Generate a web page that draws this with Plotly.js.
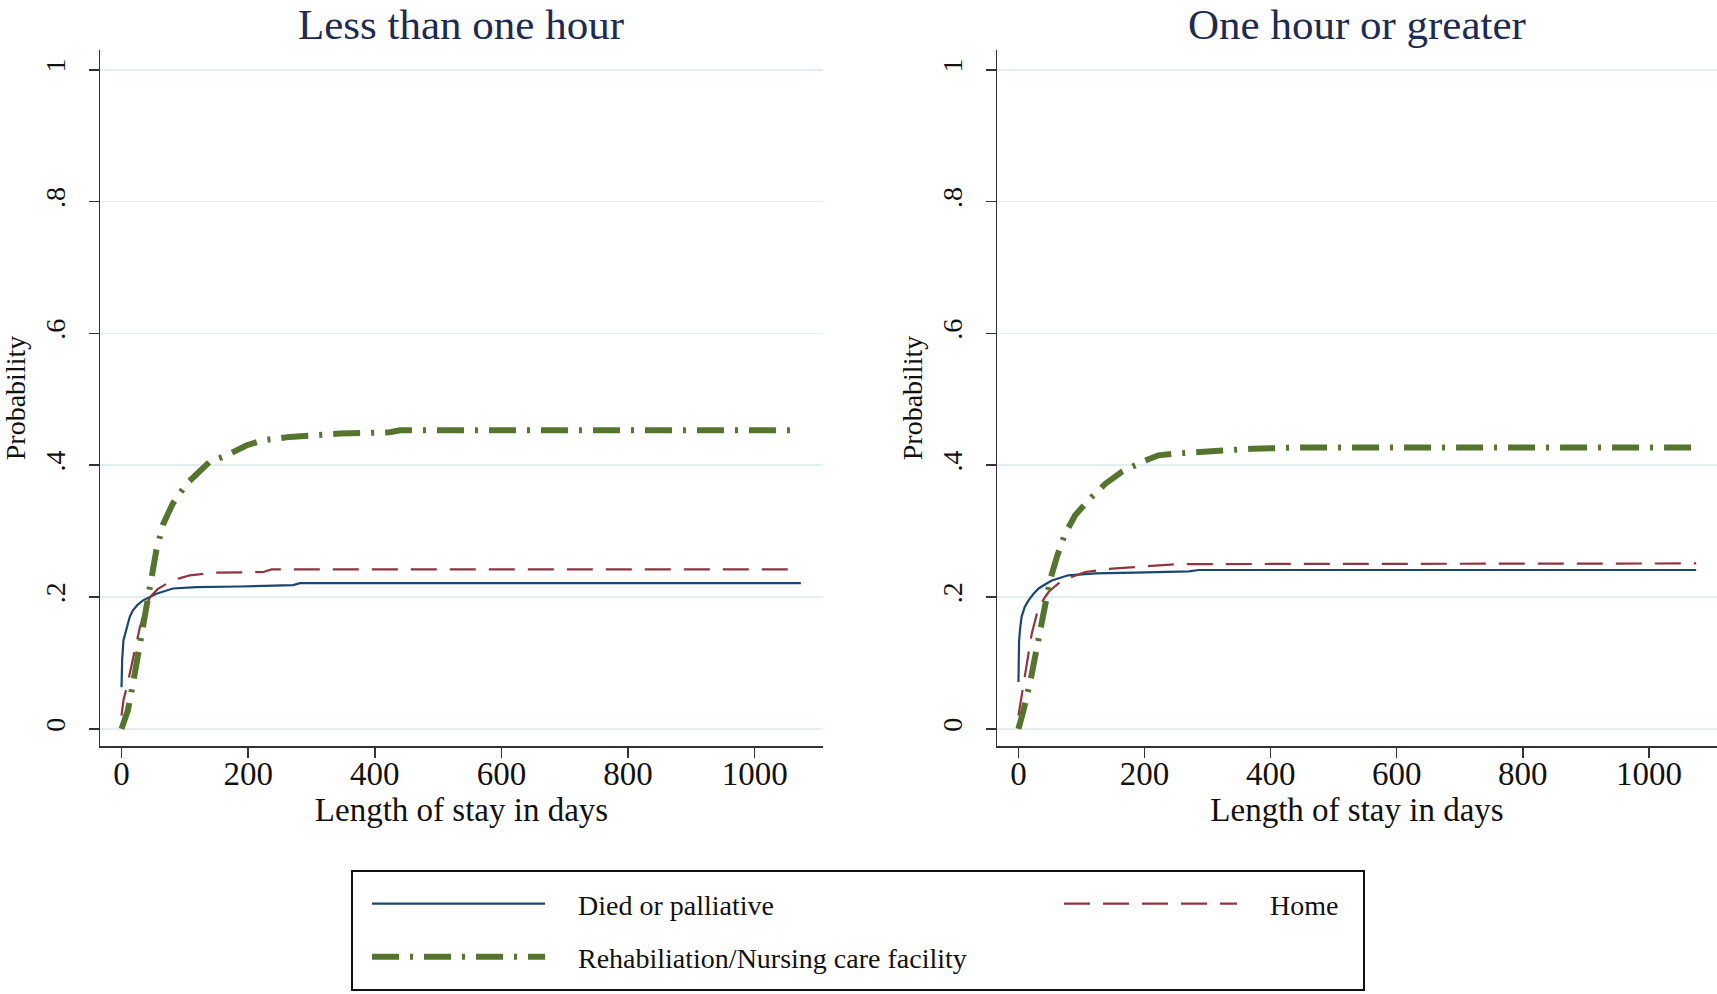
<!DOCTYPE html>
<html><head><meta charset="utf-8">
<script src="https://cdn.plot.ly/plotly-3.0.1.min.js"></script>
<style>html,body{margin:0;padding:0;background:#fff;} #chart{width:1717px;height:994px;}</style>
</head><body><div id="chart"></div><script>
const panelTitles = ["Less than one hour", "One hour or greater"];
const seriesNames = ["Died or palliative", "Home", "Rehabiliation/Nursing care facility"];
const xTickVals = [0, 200, 400, 600, 800, 1000];
const yTickVals = [0, 0.2, 0.4, 0.6, 0.8, 1];
const yTickText = ["0", ".2", ".4", ".6", ".8", "1"];

// Panel 1: Less than one hour
const lessDiedDays = [0, 1, 3, 8, 13, 18, 25, 34, 45, 55, 81, 118, 187, 271, 282, 1073];
const lessDiedProb = [0.063, 0.105, 0.134, 0.154, 0.170, 0.180, 0.188, 0.195, 0.200, 0.205, 0.213, 0.215, 0.216, 0.218, 0.221, 0.221];
const lessHomeDays = [0, 3, 8, 13, 21, 29, 37, 45, 57, 71, 90, 108, 145, 224, 237, 1073];
const lessHomeProb = [0.020, 0.043, 0.062, 0.084, 0.120, 0.154, 0.180, 0.200, 0.212, 0.220, 0.228, 0.233, 0.237, 0.238, 0.242, 0.242];
const lessRehabDays = [0, 5, 10, 18, 26, 37, 47, 55, 66, 81, 103, 124, 139, 166, 197, 224, 266, 345, 424, 440, 1073];
const lessRehabProb = [0.000, 0.012, 0.028, 0.068, 0.114, 0.170, 0.225, 0.271, 0.311, 0.342, 0.372, 0.390, 0.405, 0.415, 0.430, 0.438, 0.443, 0.448, 0.450, 0.453, 0.453];

// Panel 2: One hour or greater
const moreDiedDays = [0, 1, 3, 5, 10, 16, 24, 32, 42, 53, 79, 122, 185, 270, 286, 1075];
const moreDiedProb = [0.071, 0.134, 0.155, 0.170, 0.185, 0.195, 0.205, 0.213, 0.219, 0.225, 0.233, 0.236, 0.237, 0.239, 0.241, 0.241];
const moreHomeDays = [0, 5, 9, 13, 21, 32, 48, 69, 106, 148, 212, 254, 1075];
const moreHomeProb = [0.020, 0.048, 0.070, 0.094, 0.144, 0.185, 0.208, 0.225, 0.238, 0.243, 0.247, 0.250, 0.251];
const moreRehabDays = [0, 4, 8, 19, 29, 40, 50, 61, 74, 90, 111, 138, 164, 196, 222, 254, 317, 370, 450, 1070];
const moreRehabProb = [0.000, 0.012, 0.028, 0.073, 0.124, 0.175, 0.225, 0.261, 0.296, 0.324, 0.347, 0.372, 0.390, 0.405, 0.415, 0.418, 0.423, 0.425, 0.427, 0.427];

const colDied = '#1a476f', colHome = '#90353b', colRehab = '#55752f';
const serif = 'Liberation Serif, Times New Roman, serif';
const legendIds = ['legend', 'legend2', 'legend3'];
const pad = '\u00a0\u00a0\u00a0\u00a0';

function tr(x, y, i, axis, showleg) {
  const styles = [
    {color: colDied, width: 2.2, dash: 'solid'},
    {color: colHome, width: 2.2, dash: '26px,13px'},
    {color: colRehab, width: 6, dash: '27px,11px,3px,11px'}
  ];
  return {
    x: x, y: y, type: 'scatter', mode: 'lines', name: pad + seriesNames[i],
    line: styles[i], xaxis: 'x' + axis, yaxis: 'y' + axis,
    showlegend: showleg, legend: legendIds[i],
    hoverinfo: 'skip'
  };
}

const data = [
  tr(lessDiedDays, lessDiedProb, 0, '', true),
  tr(lessHomeDays, lessHomeProb, 1, '', true),
  tr(lessRehabDays, lessRehabProb, 2, '', true),
  tr(moreDiedDays, moreDiedProb, 0, '2', false),
  tr(moreHomeDays, moreHomeProb, 1, '2', false),
  tr(moreRehabDays, moreRehabProb, 2, '2', false)
];

const W = 1717, H = 994;
function xax(d0, d1, anchor) {
  return {
    domain: [d0 / W, d1 / W], anchor: anchor, range: [-34, 1108],
    tickvals: xTickVals, ticks: 'outside', ticklen: 10, tickwidth: 1.5, tickcolor: '#333',
    ticklabelstandoff: -12,
    showline: true, linecolor: '#333', linewidth: 1.5, showgrid: false, zeroline: false,
    tickfont: {family: serif, size: 33, color: '#111'},
    title: {text: 'Length of stay in days', font: {family: serif, size: 33, color: '#111'}, standoff: 0},
    automargin: false
  };
}
function yax(anchor) {
  return {
    domain: [(H - 746) / H, (H - 50) / H], anchor: anchor, range: [-0.026, 1.03],
    tickvals: yTickVals, ticktext: yTickText, tickangle: -90,
    ticks: 'outside', ticklen: 10, tickwidth: 1.5, tickcolor: '#333', ticklabelstandoff: 12,
    showline: true, linecolor: '#333', linewidth: 1.5,
    showgrid: true, gridcolor: '#e4eef0', gridwidth: 1.5, zeroline: false,
    tickfont: {family: serif, size: 28, color: '#111'},
    title: {text: 'Probability', font: {family: serif, size: 28, color: '#111'}, standoff: 6},
    automargin: false
  };
}
function leg(xpx, ypx) {
  return {orientation: 'h', x: xpx / W, xanchor: 'left', y: (H - ypx) / H, yanchor: 'middle',
    itemwidth: 173, bgcolor: 'rgba(0,0,0,0)', borderwidth: 0,
    font: {family: serif, size: 28, color: '#111'}};
}

const layout = {
  width: W, height: H, margin: {l: 0, r: 0, t: 0, b: 0},
  paper_bgcolor: '#fff', plot_bgcolor: '#fff',
  xaxis: xax(100, 823, 'y'), yaxis: yax('x'),
  xaxis2: xax(997, 1717, 'y2'), yaxis2: yax('x2'),
  annotations: [
    {text: panelTitles[0], xref: 'x domain', x: 0.5, yref: 'paper', y: 1, yanchor: 'top', showarrow: false,
     borderpad: 0, font: {family: serif, size: 43, color: '#1c2b4f'}},
    {text: panelTitles[1], xref: 'x2 domain', x: 0.5, yref: 'paper', y: 1, yanchor: 'top', showarrow: false,
     borderpad: 0, font: {family: serif, size: 43, color: '#1c2b4f'}}
  ],
  shapes: [
    {type: 'rect', xref: 'paper', yref: 'paper', x0: 352 / W, x1: 1364 / W, y0: (H - 990) / H, y1: (H - 871) / H,
     line: {color: '#111', width: 2}, fillcolor: 'rgba(0,0,0,0)'}
  ],
  legend: leg(367, 904),
  legend2: leg(1059, 904),
  legend3: leg(367, 957)
};

Plotly.newPlot('chart', data, layout, {staticPlot: true});
</script></body></html>
